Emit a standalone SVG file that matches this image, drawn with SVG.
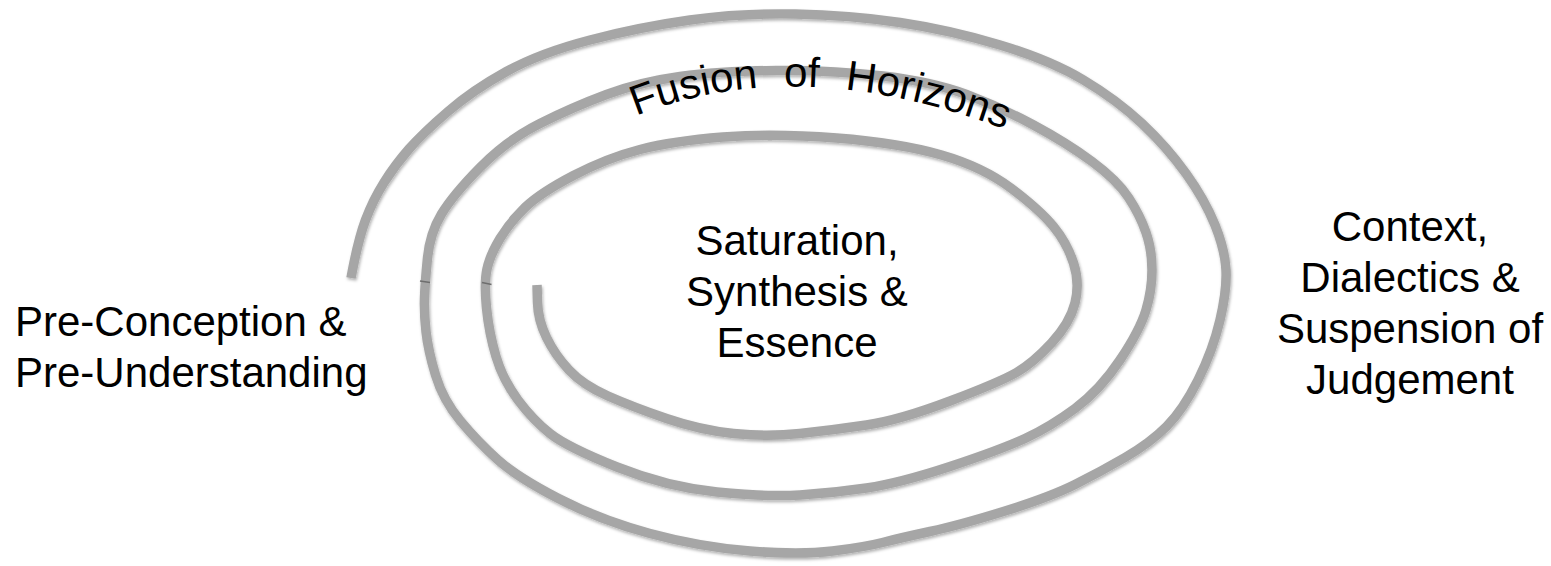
<svg xmlns="http://www.w3.org/2000/svg" width="1551" height="566" viewBox="0 0 1551 566">
<style>
.lbl{font-family:"Liberation Sans",Arial,sans-serif;font-size:42px;fill:#000}
.mid{text-anchor:middle}
.spiral{fill:none;stroke:#a6a6a6;stroke-width:9.5;stroke-linecap:butt;stroke-linejoin:round}
.seam{stroke:#6e6e6e;stroke-width:1.6;fill:none}
</style>
<defs>
<filter id="sh" x="-5%" y="-5%" width="110%" height="110%">
<feDropShadow dx="1" dy="2" stdDeviation="1.5" flood-color="#000" flood-opacity="0.3"/>
</filter>
<path id="arc" d="M 636 116 Q 800 50 1012 132"/>
</defs>
<rect width="1551" height="566" fill="#fff"/>
<g id="connectors">
<path id="spiral" class="spiral" filter="url(#sh)" d="M 351 278 Q 358 240 365.5 220 Q 373 200 384 182.5 Q 395 165 409 149 Q 423 133 448 111.5 Q 473 90 506.5 71.5 Q 540 53 590 40 Q 640 27 690 20 Q 740 13 795 14 Q 850 15 900 22.5 Q 950 30 1000 45 Q 1050 60 1083.5 80 Q 1117 100 1142 123.5 Q 1167 147 1186 173.5 Q 1205 200 1215 225 Q 1225 250 1226 270 Q 1227 290 1220 320 Q 1213 350 1198 380 Q 1183 410 1166.5 426.5 Q 1150 443 1125 457.5 Q 1100 472 1075 484.5 Q 1050 497 1005 511 Q 960 525 930 531.5 Q 900 538 882.5 542.5 Q 865 547 832.5 551 Q 800 555 750 551 Q 700 547 650 533.5 Q 600 520 558.5 498.5 Q 517 477 497.5 459.5 Q 478 442 460.5 421 Q 443 400 435.5 375 Q 428 350 426 331.5 Q 424 313 424.5 298 Q 425 283 427.5 258 Q 430 233 441.5 214 Q 453 195 480 167.5 Q 507 140 540 123.5 Q 573 107 606.5 94.5 Q 640 82 680 76.5 Q 720 71 776.5 70.5 Q 833 70 883 76 Q 933 82 966.5 94.5 Q 1000 107 1033.5 125 Q 1067 143 1092 161.5 Q 1117 180 1128.5 197.5 Q 1140 215 1146 232.5 Q 1152 250 1152 270 Q 1152 290 1146 310 Q 1140 330 1120 360 Q 1100 390 1075 408.5 Q 1050 427 1025 438.5 Q 1000 450 950 466.5 Q 900 483 866.5 488 Q 833 493 800 495 Q 767 497 717 492 Q 667 487 617 467 Q 567 447 550 433.5 Q 533 420 518 400 Q 503 380 496 356.5 Q 489 333 486.5 308 Q 484 283 487 269 Q 490 255 500 238.5 Q 510 222 525 207.5 Q 540 193 573.5 175.5 Q 607 158 640 149.5 Q 673 141 723 137 Q 773 133 836.5 138 Q 900 143 941.5 155 Q 983 167 1011.5 188.5 Q 1040 210 1053.5 226.5 Q 1067 243 1073.5 263 Q 1080 283 1075 303 Q 1070 323 1051.5 343 Q 1033 363 1016.5 372.5 Q 1000 382 950 401 Q 900 420 866.5 425 Q 833 430 800 433.5 Q 767 437 733.5 433.5 Q 700 430 666.5 418.5 Q 633 407 608 396 Q 583 385 569 370 Q 555 355 546.5 337.5 Q 538 320 537.5 302.5 L 537 285"/>
<line class="seam" x1="420" y1="281" x2="430" y2="282.5"/>
<line class="seam" x1="482" y1="282.5" x2="491.5" y2="284.5"/>
</g>
<g id="pre-conception">
<text class="lbl" x="15" y="336">Pre-Conception &amp;</text>
<text class="lbl" x="15" y="387">Pre-Understanding</text>
</g>
<g id="saturation">
<text class="lbl mid" x="797" y="255">Saturation,</text>
<text class="lbl mid" x="797" y="306">Synthesis &amp;</text>
<text class="lbl mid" x="797" y="357">Essence</text>
</g>
<g id="context">
<text class="lbl mid" x="1410" y="241">Context,</text>
<text class="lbl mid" x="1410" y="292">Dialectics &amp;</text>
<text class="lbl mid" x="1410" y="343">Suspension of</text>
<text class="lbl mid" x="1410" y="394">Judgement</text>
</g>
<g id="fusion">
<text class="lbl" word-spacing="14"><textPath href="#arc">Fusion of Horizons</textPath></text>
</g>
</svg>
